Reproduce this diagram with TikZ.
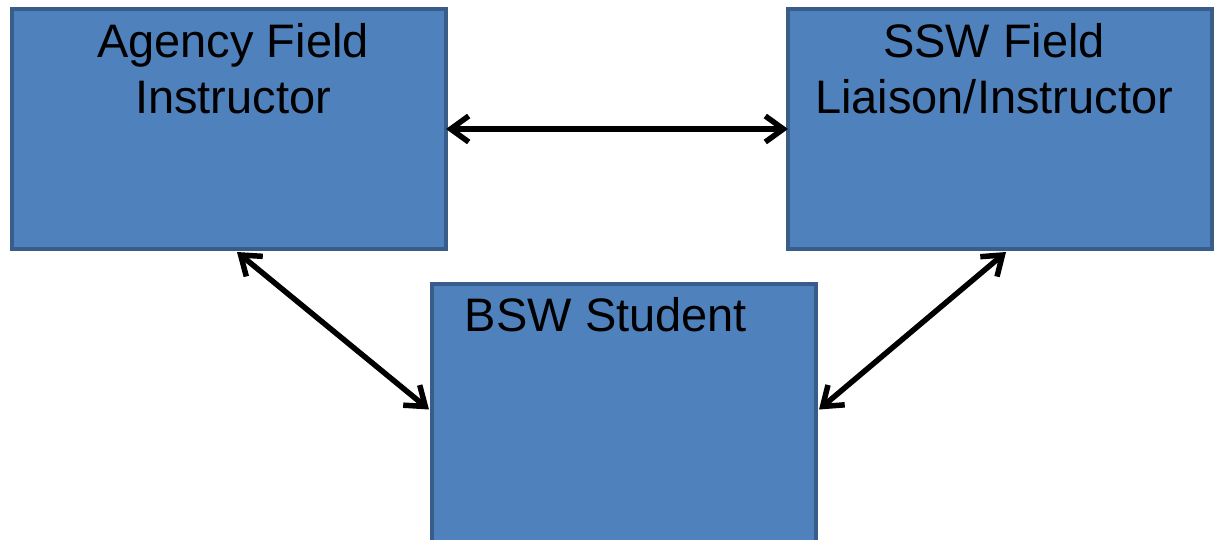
\documentclass[tikz,border=0pt]{standalone}
\usepackage{fontspec}
\setmainfont{Liberation Sans}
\usetikzlibrary{arrows.meta,calc}
\definecolor{boxfill}{HTML}{4F81BD}
\definecolor{boxline}{HTML}{385D8A}
\begin{document}
\begin{tikzpicture}[x=1pt,y=-1pt,
  box/.style={draw=boxline,fill=boxfill,line width=4pt,inner sep=0pt,outer sep=0pt},
  lbl/.style={anchor=base,inner sep=0pt,font=\fontsize{47}{56}\selectfont},
  link/.style={line width=5.5pt,{Straight Barb[length=18pt,width=26pt]}-{Straight Barb[length=18pt,width=26pt]}}]
\useasboundingbox (0,0) rectangle (1214,539);
\node[box,minimum width=434pt,minimum height=240pt] (ag) at (229,129) {};
\node[box,minimum width=424pt,minimum height=240pt] (ssw) at (1000,129) {};
\node[box,minimum width=384pt,minimum height=277pt] (bsw) at (624,422) {};
\node[lbl] (ag1) at (233,57) {Agency Field};
\node[lbl] (ag2) at (233,113) {Instructor};
\node[lbl] (ss1) at (994,57) {SSW Field};
\node[lbl] (ss2) at (994,113) {Liaison/Instructor};
\node[lbl] (bs1) at (606,331) {BSW Student};
\draw[link] (ag.east) -- (ssw.west);
\draw[link] ($(ag.south west)+(225,3)$) -- ($(bsw.north west)+(-3,126)$);
\draw[link] ($(ssw.south west)+(218,3)$) -- ($(bsw.north east)+(3,126)$);
\end{tikzpicture}
\end{document}
